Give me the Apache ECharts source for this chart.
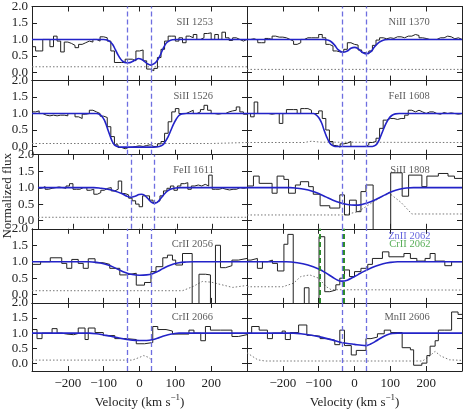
<!DOCTYPE html>
<html>
<head>
<meta charset="utf-8">
<script src="https://cdn.jsdelivr.net/npm/echarts@6/dist/echarts.min.js"></script>
<style>
  html, body { margin: 0; padding: 0; background: #fff; }
  #chart { width: 465px; height: 410px; }
</style>
</head>
<body>
<div id="chart"></div>
<script>
// velocity axis and tick labels
const velMin = -300;
const velMax = 300;
const binWidth = 10;
const velTicks = [-200, -100, 0, 100, 200];
const fluxTicks = [0, 0.5, 1, 1.5, 2];
const markerVel = [-33, 33];
const crMarkerVel = [-96, -29];

// panel line labels (row by row, left then right)
const lineNames = ['SII 1253', 'NiII 1370', 'SiII 1526', 'FeII 1608', 'FeII 1611',
  'SiII 1808', 'CrII 2056', 'ZnII 2062', 'CrII 2066', 'MnII 2606'];

// ---- observed flux, 10 km/s bins from -300 ----
const fluxSII = [0.78, 0.65, 0.65, 1.0, 1.0, 0.78, 1.1, 0.95, 0.62, 0.92,
  0.88, 0.82, 0.75, 0.85, 0.9, 0.95, 0.92, 1.0, 0.95, 1.08,
  1.05, 0.95, 0.65, 0.3, 0.3, 0.3, 0.4, 0.4, 0.35, 0.65,
  0.68, 0.35, 0.1, 0.05, 0.12, 0.45, 0.7, 0.95, 1.1, 1.1,
  0.95, 1.05, 0.9, 1.1, 1.05, 1.15, 1.0, 1.05, 1.18, 1.2,
  1.0, 1.15, 1.0, 1.22, 1.05, 0.97, 1.05, 1.0, 0.95, 1.0];
const fluxNiII = [1.0, 1.02, 0.98, 0.9, 0.9, 1.03, 1.0, 1.1, 1.07, 1.07,
  1.05, 1.0, 0.95, 0.85, 0.9, 1.0, 1.05, 1.05, 1.05, 1.05,
  1.15, 1.05, 0.85, 0.8, 0.65, 0.62, 0.62, 0.7, 0.9, 0.85,
  0.83, 0.68, 0.6, 0.56, 0.65, 0.82, 0.98, 1.05, 1.02, 1.05,
  1.03, 1.08, 1.08, 1.05, 1.1, 1.1, 1.15, 1.12, 1.05, 1.03,
  1.0, 1.0, 1.0, 1.05, 1.05, 1.1, 1.08, 1.02, 1.05, 1.0];
const fluxSiII1526 = [1.05, 1.08, 1.0, 0.95, 0.93, 0.95, 0.93, 0.95, 0.95, 0.93,
  1.0, 1.0, 0.9, 0.85, 0.98, 1.0, 1.1, 1.05, 1.0, 0.92,
  0.88, 0.6, 0.3, 0.05, -0.03, -0.07, -0.03, -0.02, 0.0, 0.02,
  0.0, 0.03, 0.05, 0.0, 0.0, 0.08, 0.15, 0.4, 0.75, 1.05,
  1.15, 1.0, 1.0, 1.05, 1.1, 1.0, 1.05, 1.12, 1.25, 1.1,
  1.0, 0.98, 1.0, 1.0, 1.05, 1.08, 1.1, 1.2, 1.05, 0.98];
const fluxFeII1608 = [1.0, 0.9, 1.35, 1.0, 1.0, 1.0, 0.98, 1.0, 1.0, 0.7,
  1.0, 1.12, 1.12, 1.12, 1.0, 1.15, 1.15, 1.1, 1.0, 1.0,
  1.08, 0.85, 0.5, 0.15, 0.03, -0.02, 0.08, 0.1, 0.15, 0.0,
  0.0, 0.0, 0.0, 0.05, 0.12, 0.15, 0.25, 0.55, 0.8, 0.85,
  0.85, 0.82, 0.85, 0.85, 0.95, 1.1, 1.05, 1.1, 1.05, 1.0,
  1.05, 1.05, 1.0, 0.98, 1.03, 1.0, 1.02, 1.0, 0.98, 1.0];
const fluxFeII1611 = [0.98, 1.03, 0.95, 0.98, 1.0, 1.02, 1.0, 0.98, 1.05, 1.12,
  0.95, 0.95, 1.0, 1.0, 0.92, 0.95, 0.8, 0.85, 0.92, 0.98,
  1.0, 0.9, 0.95, 1.2, 0.82, 0.78, 0.68, 0.6, 0.5, 0.42,
  0.75, 0.75, 0.62, 0.55, 0.6, 0.75, 0.9, 0.98, 1.05, 0.92,
  1.05, 1.12, 1.15, 0.95, 1.05, 1.08, 1.05, 1.1, 1.05, 1.38,
  0.95, 0.95, 0.98, 0.95, 0.93, 0.95, 0.95, 1.0, 0.98, 1.0];

// ---- observed flux, irregular bins (left bin edges) ----
const edgesSiII1808 = [-300, -282, -266, -230, -216, -197, -184, -165, -151, -128,
  -115, -96, -69, -41, -28, -14, 5, 18, 32, 52, 101, 133, 151, 188, 202, 234, 261, 279];
const fluxSiII1808 = [1.05, 1.35, 1.13, 0.83, 1.35, 1.25, 0.83, 1.08, 1.18, 1.03,
  0.8, 0.45, 0.38, 0.78, 0.17, 0.62, 0.27, 0.88, 1.08, -1, 1.45, 0.74, 1.38, 1.03, 1.35, 1.43, 1.35, 1.28];
const edgesCrII2056 = [-300, -276, -249, -217, -203, -189, -171, -157, -143, -124,
  -101, -83, -55, -37, -9, 14, 32, 46, 65, 78,
  92, 101, 120, 147, 166, 184, 198, 212, 226, 240, 258, 276];
const fluxCrII2056 = [0.92, 1.0, 1.12, 0.95, 0.8, 1.07, 0.95, 0.8, 1.09, 0.97,
  0.92, 0.8, 0.6, 0.65, 0.29, 0.37, 0.7, 0.85, 1.12, 1.2,
  1.05, 0.9, 1.25, -1, 0.62, 0.6, -1, 1.5, 0.82, 0.88, 1.05, 1.1];
const edgesZnII2062 = [-300, -289, -271, -257, -243, -229, -215, -197, -186, -171,
  -140, -127, -99, -83, -69, -52, -41, -28, -14, 0,
  18, 37, 50, 78, 96, 138, 156, 174, 197, 211, 225, 252, 271, 289];
const fluxZnII2062 = [1.05, 1.1, 0.8, 1.0, 1.05, 0.95, 0.72, 1.53, 1.83, -1,
  0.21, -1, 1.76, 0.09, 0.14, 0.3, 0.5, 0.75, 0.55, 0.7,
  0.8, 0.92, 1.1, 1.3, 1.15, 1.25, 1.1, 1.02, 1.1, 1.25, 1.02, 0.88, 1.0, 1.0];
const edgesCrII2066 = [-300, -286, -272, -244, -230, -217, -203, -184, -171, -152,
  -143, -124, -101, -69, -37, -9, 14, 37, 51, 74,
  92, 138, 152, 171, 184, 198, 226, 258, 276];
const fluxCrII2066 = [1.12, 0.82, 1.0, 1.15, 1.0, 0.97, 0.95, 0.99, 1.17, 0.79,
  1.17, 1.02, 0.92, 0.82, 0.79, 0.65, 0.69, 1.22, 1.12, 1.07,
  0.97, 1.1, 1.0, 0.75, 1.22, 1.1, 1.1, 0.89, 0.95];
const edgesMnII2606 = [-300, -287, -266, -243, -229, -202, -193, -179, -156, -133,
  -119, -96, -78, -55, -41, -28, -9, 5, 32, 46,
  64, 83, 101, 133, 156, 165, 188, 202, 211, 225, 234, 252, 271, 289];
const fluxMnII2606 = [1.0, 1.22, 1.1, 0.82, 1.0, 1.07, 0.79, 1.02, 1.27, 0.93,
  0.9, 0.82, 0.77, 0.62, 1.1, 0.59, 0.28, 0.43, 0.82, 0.87,
  0.98, 1.1, 1.02, 0.52, 0.45, -0.06, 0.01, 0.26, 0.57, 0.75, 1.1, 1.1, 1.7, 1.62];

// ---- model fits [velocity, flux] ----
const fitSII = [[-300, 1], [-100, 1], [-90, 0.98], [-82, 0.93], [-74, 0.83], [-67, 0.68], [-60, 0.53],
  [-53, 0.41], [-46, 0.33], [-38, 0.29], [-30, 0.29], [-20, 0.33], [-10, 0.39], [-3, 0.42], [5, 0.4],
  [13, 0.34], [22, 0.26], [32, 0.22], [42, 0.27], [50, 0.37], [57, 0.5], [65, 0.7], [74, 0.88],
  [82, 0.95], [92, 0.99], [105, 1], [300, 1]];
const fitNiII = [[-300, 1], [-85, 1], [-75, 0.98], [-65, 0.93], [-55, 0.82], [-45, 0.68], [-33, 0.61],
  [-20, 0.65], [-10, 0.73], [0, 0.76], [10, 0.72], [20, 0.62], [33, 0.56], [45, 0.62], [55, 0.76],
  [65, 0.88], [75, 0.95], [85, 0.99], [95, 1], [300, 1]];
const fitSiII1526 = [[-300, 1], [-120, 1], [-112, 0.98], [-105, 0.92], [-98, 0.8], [-92, 0.63],
  [-88, 0.5], [-82, 0.32], [-76, 0.15], [-70, 0.05], [-62, 0.0], [-50, -0.02], [40, -0.02],
  [55, 0.0], [65, 0.05], [72, 0.15], [80, 0.3], [88, 0.5], [95, 0.68], [102, 0.82], [110, 0.94],
  [118, 0.99], [130, 1], [300, 1]];
const fitFeII1608 = [[-300, 1], [-115, 1], [-108, 0.97], [-100, 0.88], [-92, 0.72], [-85, 0.5],
  [-78, 0.3], [-70, 0.12], [-62, 0.03], [-55, 0.0], [50, 0.0], [58, 0.03], [65, 0.12], [72, 0.28],
  [80, 0.5], [88, 0.7], [96, 0.85], [104, 0.94], [114, 0.99], [125, 1], [300, 1]];
const fitFeII1611 = [[-300, 1], [-140, 1], [-120, 0.98], [-100, 0.95], [-80, 0.9], [-60, 0.82],
  [-45, 0.74], [-33, 0.71], [-22, 0.74], [-10, 0.79], [-3, 0.8], [5, 0.77], [15, 0.67], [25, 0.56],
  [33, 0.52], [42, 0.55], [52, 0.67], [62, 0.8], [72, 0.9], [82, 0.96], [95, 0.99], [110, 1], [300, 1]];
const fitSiII1808 = [[-300, 1], [-180, 1], [-160, 0.98], [-140, 0.95], [-120, 0.9], [-100, 0.82],
  [-80, 0.72], [-60, 0.62], [-40, 0.54], [-20, 0.49], [0, 0.47], [10, 0.47], [25, 0.5], [45, 0.57],
  [65, 0.67], [85, 0.78], [105, 0.88], [125, 0.95], [145, 0.99], [165, 1], [300, 1]];
const fitCrII2056 = [[-300, 1], [-140, 1], [-120, 0.98], [-100, 0.94], [-80, 0.87], [-60, 0.77],
  [-40, 0.67], [-20, 0.61], [0, 0.59], [20, 0.6], [35, 0.63], [50, 0.7], [65, 0.79], [80, 0.87],
  [95, 0.93], [110, 0.97], [130, 0.99], [150, 1], [300, 1]];
const fitZnII2062 = [[-300, 1], [-190, 1], [-160, 0.97], [-130, 0.9], [-100, 0.78], [-80, 0.66],
  [-60, 0.52], [-45, 0.43], [-35, 0.41], [-20, 0.44], [-5, 0.52], [10, 0.61], [25, 0.7], [40, 0.78],
  [60, 0.87], [80, 0.94], [100, 0.98], [120, 1], [300, 1]];
const fitCrII2066 = [[-300, 1], [-140, 1], [-120, 0.98], [-100, 0.94], [-80, 0.9], [-60, 0.85],
  [-40, 0.8], [-20, 0.77], [0, 0.76], [20, 0.76], [35, 0.78], [50, 0.83], [65, 0.9], [80, 0.95],
  [95, 0.98], [110, 1], [300, 1]];
const fitMnII2606 = [[-300, 1], [-170, 1], [-150, 0.98], [-120, 0.93], [-90, 0.86], [-60, 0.77],
  [-40, 0.7], [-20, 0.66], [0, 0.63], [20, 0.6], [32, 0.59], [45, 0.64], [60, 0.74], [75, 0.85],
  [90, 0.94], [105, 0.99], [120, 1], [300, 1]];

// ---- flux errors [velocity, sigma] ----
const errSII = [[-300, 0.17], [300, 0.17]];
const errNiII = [[-300, 0.09], [300, 0.09]];
const errSiII1526 = [[-300, 0.09], [200, 0.09], [300, 0.12]];
const errFeII1608 = [[-300, 0.12], [-140, 0.12], [-120, 0.16], [-95, 0.13], [300, 0.12]];
const errFeII1611 = [[-300, 0.1], [300, 0.1]];
const errSiII1808 = [[-300, 0.17], [-30, 0.17], [10, 0.27], [50, 0.55], [95, 0.85], [130, 0.55], [160, 0.2], [300, 0.2]];
const errCrII2056 = [[-300, 0.12], [120, 0.12], [150, 0.25], [175, 0.4], [200, 0.38], [230, 0.3], [260, 0.22], [300, 0.28]];
const errZnII2062 = [[-300, 0.24], [-200, 0.24], [-170, 0.35], [-150, 0.55], [-125, 0.6], [-100, 0.5], [-80, 0.25], [-65, 0.15], [300, 0.14]];
const errCrII2066 = [[-300, 0.11], [-20, 0.11], [0, 0.2], [12, 0.26], [25, 0.2], [35, 0.11]];
const errMnII2606 = [[-300, 0.35], [-270, 0.12], [-250, 0.08], [190, 0.08], [210, 0.25], [225, 0.4], [240, 0.25], [265, 0.12], [300, 0.1]];

const serif = "'Liberation Serif', 'DejaVu Serif', serif";
const ink = '#222';

function uniformEdges(vals) {
  return vals.map((_, i) => velMin + binWidth * i);
}
function stepPairs(edges, vals) {
  const pts = edges.map((e, i) => [e, vals[i]]);
  pts.push([velMax, vals[vals.length - 1]]);
  return pts;
}

const panels = [
  { edges: uniformEdges(fluxSII), flux: fluxSII, fit: fitSII, err: errSII },
  { edges: uniformEdges(fluxNiII), flux: fluxNiII, fit: fitNiII, err: errNiII },
  { edges: uniformEdges(fluxSiII1526), flux: fluxSiII1526, fit: fitSiII1526, err: errSiII1526 },
  { edges: uniformEdges(fluxFeII1608), flux: fluxFeII1608, fit: fitFeII1608, err: errFeII1608 },
  { edges: uniformEdges(fluxFeII1611), flux: fluxFeII1611, fit: fitFeII1611, err: errFeII1611 },
  { edges: edgesSiII1808, flux: fluxSiII1808, fit: fitSiII1808, err: errSiII1808 },
  { edges: edgesCrII2056, flux: fluxCrII2056, fit: fitCrII2056, err: errCrII2056 },
  { edges: edgesZnII2062, flux: fluxZnII2062, fit: fitZnII2062, err: errZnII2062 },
  { edges: edgesCrII2066, flux: fluxCrII2066, fit: fitCrII2066, err: errCrII2066 },
  { edges: edgesMnII2606, flux: fluxMnII2606, fit: fitMnII2606, err: errMnII2606 }
];

const gridLeft = [32, 247];
const gridWidth = 215;
const gridTop = 6.5;
const rowHeight = 74.1;

const grids = [];
const xAxes = [];
const yAxes = [];
const series = [];

function velLabel(v) {
  if (v <= velMin || v >= velMax) return '';
  return v < 0 ? '\u2212' + Math.abs(v) : String(v);
}

panels.forEach((p, g) => {
  const row = Math.floor(g / 2);
  const col = g % 2;
  const bottomRow = row === 4;
  grids.push({ left: gridLeft[col], top: gridTop + row * rowHeight, width: gridWidth, height: rowHeight });

  ['bottom', 'top'].forEach((pos) => {
    const showLab = pos === 'bottom' && bottomRow;
    xAxes.push({
      gridIndex: g, type: 'value', position: pos, min: velMin, max: velMax, interval: 100,
      axisLine: { onZero: false, lineStyle: { color: ink, width: 1 } },
      axisTick: { inside: true, length: 5, lineStyle: { color: ink } },
      axisLabel: { show: showLab, formatter: velLabel, margin: 6, fontFamily: serif, fontSize: 13, color: ink },
      splitLine: { show: false },
      name: showLab ? '{b|Velocity (km s}{sup|\u22121}{b|)}' : '',
      nameLocation: 'middle', nameGap: 22,
      nameTextStyle: {
        rich: {
          b: { fontFamily: serif, fontSize: 13, color: ink, lineHeight: 16, verticalAlign: 'bottom' },
          sup: { fontFamily: serif, fontSize: 9, color: ink, lineHeight: 10, verticalAlign: 'top' }
        }
      }
    });
  });

  ['left', 'right'].forEach((pos) => {
    const showLab = pos === 'left' && col === 0;
    yAxes.push({
      gridIndex: g, type: 'value', position: pos, min: -0.25, max: 2,
      axisLine: { onZero: false, lineStyle: { color: ink, width: 1 } },
      axisTick: { inside: true, length: 5, customValues: fluxTicks, lineStyle: { color: ink } },
      axisLabel: { show: showLab, customValues: fluxTicks, formatter: (v) => v.toFixed(1), margin: 4,
        fontFamily: serif, fontSize: 13, color: ink },
      splitLine: { show: false },
      name: (showLab && row === 2) ? 'Normalized flux' : '',
      nameLocation: 'middle', nameGap: 18, nameRotate: 90,
      nameTextStyle: { fontFamily: serif, fontSize: 13, color: ink, padding: [0, 8, 0, 0] }
    });
  });

  const xi = 2 * g;
  const yi = 2 * g;

  series.push({
    type: 'line', xAxisIndex: xi, yAxisIndex: yi, data: p.err, showSymbol: false, silent: true, z: 1,
    lineStyle: { color: '#777', width: 1, type: [1.5, 2] }
  });
  series.push({
    type: 'line', xAxisIndex: xi, yAxisIndex: yi, data: stepPairs(p.edges, p.flux), step: 'end',
    showSymbol: false, silent: true, z: 2,
    lineStyle: { color: ink, width: 1 }
  });

  const marks = markerVel.map((v) => ({ xAxis: v }));
  if (g === 7) {
    crMarkerVel.forEach((v) => marks.push({ xAxis: v, lineStyle: { color: '#2e8b2e', width: 2, type: [5, 3] } }));
  }
  series.push({
    type: 'line', xAxisIndex: xi, yAxisIndex: yi, data: p.fit, smooth: 0.35, showSymbol: false, silent: true, z: 3,
    lineStyle: { color: '#2323c8', width: 1.6 },
    markLine: {
      silent: true, symbol: ['none', 'none'], label: { show: false },
      lineStyle: { color: '#6e6ee0', width: 1.3, type: [5, 3] },
      data: marks
    }
  });

  // line identification label
  const labelPts = g === 7
    ? [{ name: 'ZnII 2062', value: [212, 1.78], color: '#3f3fd6' }, { name: 'CrII 2062', value: [212, 1.54], color: '#2e9a2e' }]
    : [{ name: lineNames[g], value: [col === 0 ? 205 : 210, 1.53], color: '#333' }];
  series.push({
    type: 'scatter', xAxisIndex: xi, yAxisIndex: yi, symbolSize: 0.1, silent: true, z: 5,
    itemStyle: { color: 'rgba(0,0,0,0)' },
    data: labelPts.map((d) => ({
      name: d.name, value: d.value,
      label: { color: d.color }
    })),
    label: { show: true, position: 'left', distance: 0, formatter: '{b}', fontFamily: serif, fontSize: 10.5 }
  });
});

const chart = echarts.init(document.getElementById('chart'));
chart.setOption({
  animation: false,
  backgroundColor: '#fff',
  grid: grids,
  xAxis: xAxes,
  yAxis: yAxes,
  series: series
});
</script>
</body>
</html>
